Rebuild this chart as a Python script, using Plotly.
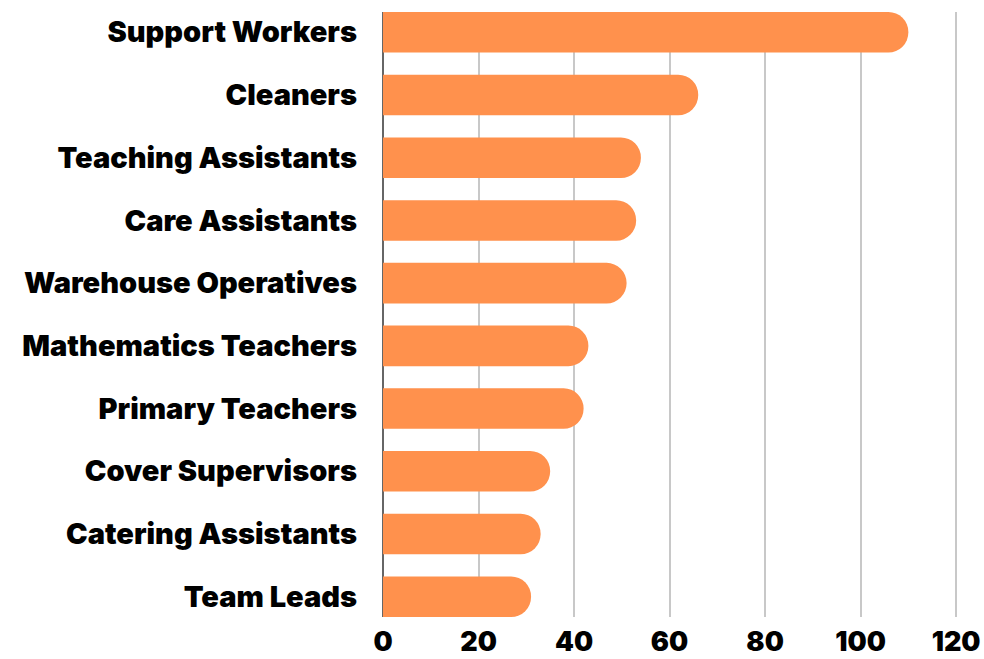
import plotly.graph_objects as go

categories = ["Support Workers", "Cleaners", "Teaching Assistants", "Care Assistants",
              "Warehouse Operatives", "Mathematics Teachers", "Primary Teachers",
              "Cover Supervisors", "Catering Assistants", "Team Leads"]
values = [110, 66, 54, 53, 51, 43, 42, 35, 33, 31]
x_ticks = [0, 20, 40, 60, 80, 100, 120]

FONT = "Inter"

fig = go.Figure(go.Bar(
    x=values, y=categories, orientation="h",
    marker=dict(color="#FF914D", cornerradius=20, line=dict(width=0)),
    width=0.647, hoverinfo="skip",
))

fig.update_layout(
    width=984, height=659,
    margin=dict(l=383, r=4, t=12, b=42),
    plot_bgcolor="white", paper_bgcolor="white",
    showlegend=False,
    font=dict(family=FONT, color="black"),
)
fig.update_xaxes(
    range=[0, 125], tickvals=x_ticks, ticktext=[str(t) for t in x_ticks],
    showgrid=True, gridcolor="#c8c8c8", gridwidth=2,
    zeroline=True, zerolinecolor="#666666", zerolinewidth=2,
    tickfont=dict(family=FONT, size=27, weight=900, color="black"),
    ticks="", showline=False, ticklabelstandoff=6, automargin=False,
)
fig.update_yaxes(
    categoryorder="array", categoryarray=categories, autorange=False,
    range=[9.3235, -0.3235],
    showgrid=False, zeroline=False, ticks="",
    tickfont=dict(family=FONT, size=29, weight=900, color="black"),
    ticklabelstandoff=25, automargin=False,
)

fig.write_html("out.html", config={"displayModeBar": False},
               post_script="document.body.style.margin='0';")
